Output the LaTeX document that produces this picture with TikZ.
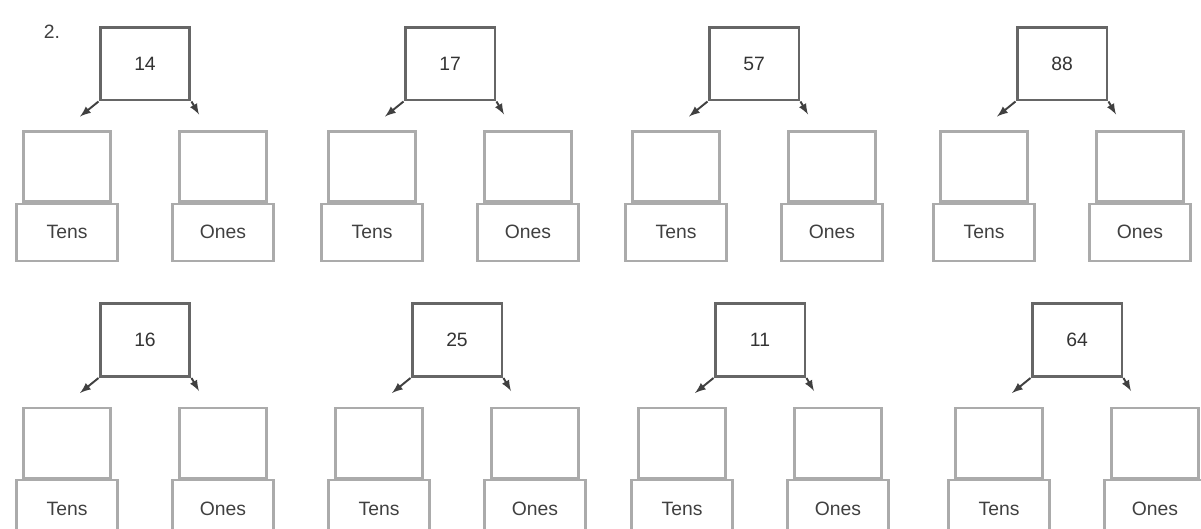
\documentclass[tikz,border=0pt]{standalone}
\usepackage{fontspec}
\setmainfont{Liberation Sans}
\usetikzlibrary{arrows,positioning}

\tikzset{
  topbox/.style={draw=black!60, line width=1.7pt, minimum width=1.8cm, minimum height=1.46cm, inner sep=0pt, text=black!80},
  emptybox/.style={draw=black!33, line width=1.3pt, minimum width=1.74cm, minimum height=1.4cm, inner sep=0pt},
  labelbox/.style={draw=black!33, line width=1.3pt, minimum width=2.02cm, minimum height=1.14cm, inner sep=0pt, text=black!75},
  arr/.style={->, black!75, line width=1.1pt},
}

\begin{document}
\begin{tikzpicture}[x=0.02cm, y=-0.02cm, >=latex, font=\fontsize{11}{13}\selectfont]
		\useasboundingbox (0,0) rectangle (1201,528);
		
		% Task number
		\node[text=black!75] (task) at (52,32) {2.};
		
		% Trees, row 1 then row 2
		\foreach \n/\x/\y/\num in {a/145/63.5/14, b/450/63.5/17, c/754/63.5/57, d/1062/63.5/88,
		                           e/145/340/16, f/457/340/25, g/760/340/11, h/1077/340/64}{
			\node[topbox] (t\n) at (\x,\y) {\num};
			\node[emptybox] (el\n) at ({\x-78},{\y+103}) {};
			\node[emptybox] (er\n) at ({\x+78},{\y+103}) {};
			\node[labelbox, below=0pt of el\n] (ll\n) {Tens};
			\node[labelbox, below=0pt of er\n] (lr\n) {Ones};
			
			% Arrows
			\coordinate (al\n) at ({\x-65},{\y+53});
			\coordinate (ar\n) at ({\x+54},{\y+51});
			\draw[arr] (t\n.south west) -- (al\n);
			\draw[arr] (t\n.south east) -- (ar\n);
		}
	\end{tikzpicture}
\end{document}
